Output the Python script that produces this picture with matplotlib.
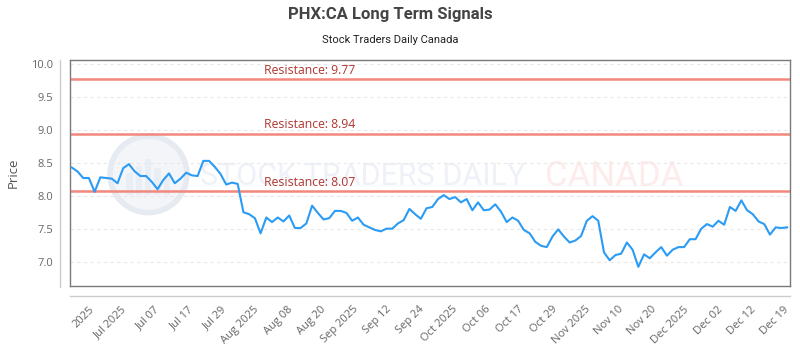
import matplotlib
matplotlib.use("Agg")
import matplotlib.pyplot as plt
import matplotlib.patches as patches
from matplotlib.lines import Line2D
import numpy as np

# === Data ===
prices = [
    8.43, 8.37, 8.27, 8.27, 8.06, 8.28, 8.27, 8.26, 8.19, 8.42,
    8.48, 8.37, 8.30, 8.30, 8.21, 8.10, 8.24, 8.34, 8.19, 8.26,
    8.35, 8.31, 8.30, 8.53, 8.53, 8.44, 8.33, 8.17, 8.20, 8.18,
    7.75, 7.72, 7.66, 7.43, 7.67, 7.60, 7.67, 7.61, 7.70, 7.51,
    7.51, 7.58, 7.85, 7.74, 7.64, 7.66, 7.77, 7.77, 7.74, 7.62,
    7.67, 7.56, 7.52, 7.48, 7.46, 7.50, 7.50, 7.58, 7.63, 7.80,
    7.72, 7.65, 7.81, 7.83, 7.95, 8.01, 7.95, 7.98, 7.90, 7.95,
    7.78, 7.90, 7.78, 7.79, 7.87, 7.76, 7.60, 7.67, 7.62, 7.48,
    7.43, 7.30, 7.24, 7.22, 7.38, 7.49, 7.38, 7.29, 7.32, 7.39,
    7.62, 7.69, 7.62, 7.14, 7.02, 7.10, 7.12, 7.29, 7.18, 6.92,
    7.11, 7.05, 7.14, 7.22, 7.09, 7.18, 7.22, 7.22, 7.34, 7.34,
    7.50, 7.57, 7.53, 7.62, 7.56, 7.83, 7.77, 7.93, 7.78, 7.72,
    7.61, 7.57, 7.41, 7.52, 7.51, 7.52,
]
resistance = [9.77, 8.94, 8.07]
tick_labels = [
    "2025", "Jul 2025", "Jul 07", "Jul 17", "Jul 29", "Aug 2025", "Aug 08",
    "Aug 20", "Sep 2025", "Sep 12", "Sep 24", "Oct 2025", "Oct 06", "Oct 17",
    "Oct 29", "Nov 2025", "Nov 10", "Nov 20", "Dec 2025", "Dec 02", "Dec 12",
    "Dec 19",
]

x = np.arange(len(prices))
tick_pos = np.linspace(2.9, 124.3, len(tick_labels))

# === Figure ===
fig = plt.figure(figsize=(8, 3.5), dpi=100)
ax = fig.add_axes([0.0875, 0.183, 0.9, 0.647])

ax.set_xlim(-0.3, len(prices) - 0.5)
ax.set_ylim(6.63, 10.07)

# watermark
logo = patches.Ellipse((0.109, 0.493), 0.107, 0.339, transform=ax.transAxes,
                       facecolor="#f3f5f9", edgecolor="#e6eaf1", lw=4, zorder=0)
ax.add_patch(logo)
for i, h in enumerate([0.10, 0.13, 0.16, 0.12, 0.09]):
    ax.add_patch(patches.Rectangle((0.078 + i * 0.013, 0.40), 0.009, h,
                                   transform=ax.transAxes, facecolor="#e9edf4",
                                   edgecolor="none", zorder=0))
ax.text(0.181, 0.482, "STOCK TRADERS DAILY", transform=ax.transAxes,
        fontsize=22, family="Roboto", color="#eef1f7", va="center", ha="left", zorder=0)
ax.text(0.660, 0.482, "CANADA", transform=ax.transAxes,
        fontsize=25, family="Roboto", color="#fdeceb", va="center", ha="left", zorder=0)

# grid
ax.set_yticks([7.0, 7.5, 8.0, 8.5, 9.0, 9.5, 10.0])
ax.yaxis.grid(True, color="#e8e8e8", linestyle=(0, (3, 3)), lw=0.8)
ax.set_axisbelow(True)

# resistance lines
for r in resistance:
    ax.axhline(r, color="#f2877e", lw=1.8, zorder=2)
    ax.text(0.269, r + 0.04, f"Resistance: {r:.2f}", transform=ax.get_yaxis_transform(),
            color="#b0362f", fontsize=8.8, family="Open Sans", va="bottom", ha="left", zorder=3)

ax.plot(x, prices, color="#2b9bf4", lw=1.5, zorder=4)

# axes style
for s in ax.spines.values():
    s.set_color("#7a7a7a")
    s.set_linewidth(1)
ax.tick_params(axis="both", length=0, colors="#666666", labelsize=8)
ax.tick_params(axis="y", pad=12)
ax.tick_params(axis="x", pad=13)
for lbl in ax.get_yticklabels():
    lbl.set_family("Open Sans")
ax.set_xticks(tick_pos)
ax.set_xticklabels(tick_labels, rotation=45, ha="right", rotation_mode="anchor",
                   family="Open Sans", fontsize=8, color="#666666")
ax.set_ylabel("Price", fontsize=9.5, color="#555555", family="Open Sans", labelpad=8)

# outer axis lines
fig.add_artist(Line2D([60 / 800, 60 / 800], [1 - 60 / 350, 1 - 287 / 350],
                      transform=fig.transFigure, color="#cccccc", lw=1))
fig.add_artist(Line2D([70 / 800, 790 / 800], [1 - 296 / 350, 1 - 296 / 350],
                      transform=fig.transFigure, color="#cccccc", lw=1))

fig.text(0.4875, 1 - 15 / 350, "PHX:CA Long Term Signals", ha="center", va="center",
         fontsize=12, fontweight="bold", family="Roboto", color="#444444")
fig.text(0.4875, 1 - 40 / 350, "Stock Traders Daily Canada", ha="center", va="center",
         fontsize=8, family="Roboto", color="#222222")

fig.savefig("out.png", dpi=100)
